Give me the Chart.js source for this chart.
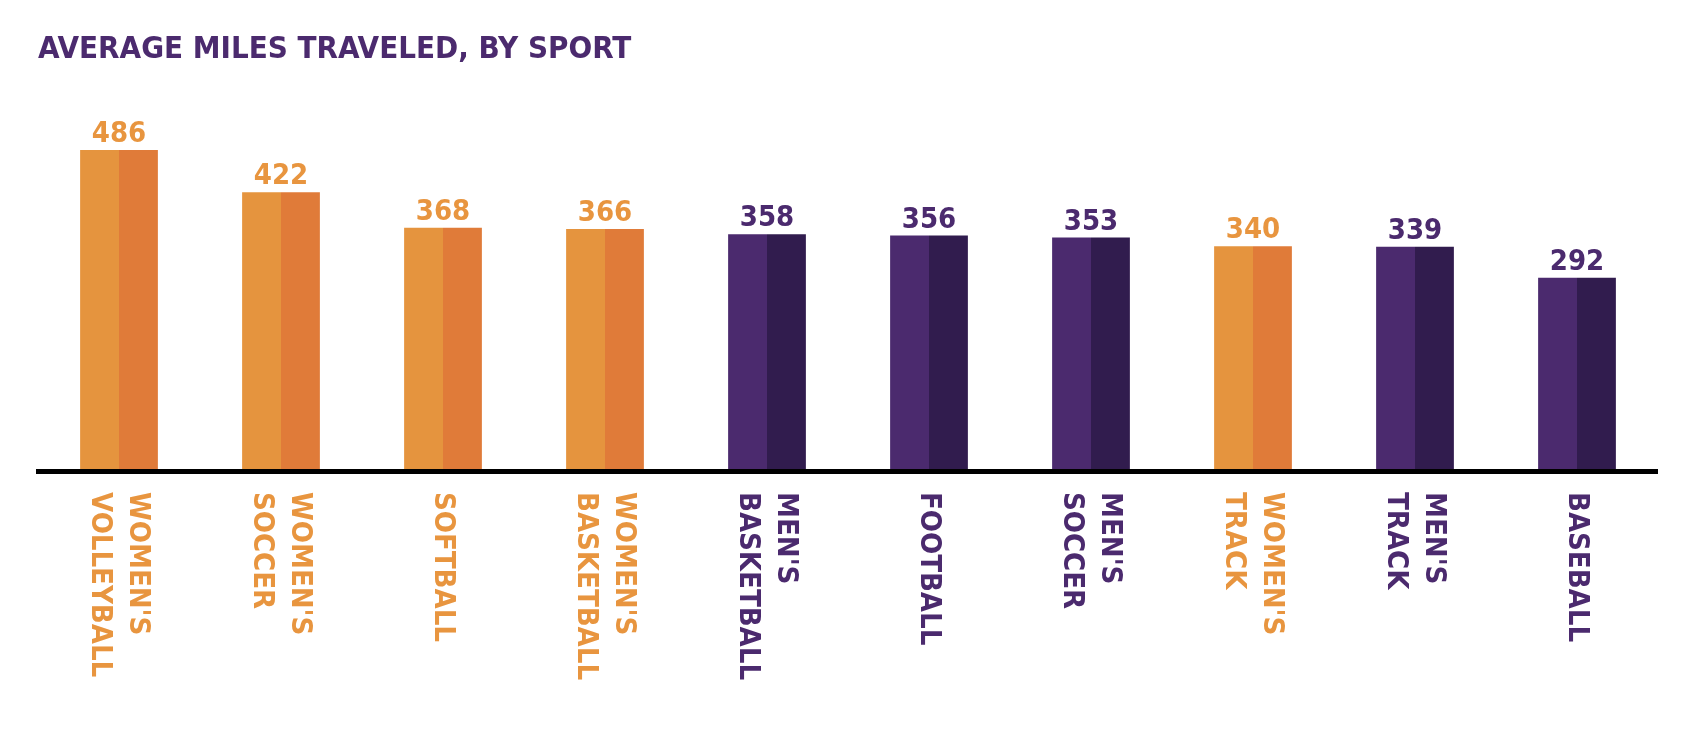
<!DOCTYPE html>
<html><head><meta charset="utf-8">
<script src="https://cdn.jsdelivr.net/npm/chart.js@4"></script>
<style>html,body{margin:0;background:#fff}</style>
</head><body>
<canvas id="c" width="1700" height="750" style="width:1700px;height:750px"></canvas>
<script>
const categories = [["WOMEN'S","VOLLEYBALL"],["WOMEN'S","SOCCER"],["SOFTBALL"],["WOMEN'S","BASKETBALL"],["MEN'S","BASKETBALL"],["FOOTBALL"],["MEN'S","SOCCER"],["WOMEN'S","TRACK"],["MEN'S","TRACK"],["BASEBALL"]];
const miles = [486,422,368,366,358,356,353,340,339,292];
const group = ["w","w","w","w","m","m","m","w","m","m"];
const title = "AVERAGE MILES TRAVELED, BY SPORT";

const FONT = "'Liberation Sans Narrow','DejaVu Sans Condensed',sans-serif";
const light = {w:"#E5943E", m:"#4B2A6E"};
const dark = {w:"#E07B39", m:"#311C4E"};
const textCol = {w:"#E8953F", m:"#4B2A6E"};

const deco = {
  id:"deco",
  afterDraw(chart){
    const ctx = chart.ctx, x = chart.scales.x, y = chart.scales.y, a = chart.chartArea;
    ctx.save();
    ctx.fillStyle = "#4B2A6E";
    ctx.font = "bold 31px " + FONT;
    ctx.textBaseline = "middle"; ctx.textAlign = "left";
    ctx.fillText(title, 38, 50);
    // axis line
    ctx.fillStyle = "#000";
    ctx.fillRect(36, y.getPixelForValue(0) - 1, 1622, 5);
    // value labels
    ctx.font = "bold 29px " + FONT;
    ctx.textAlign = "center"; ctx.textBaseline = "alphabetic";
    miles.forEach((v,i)=>{
      ctx.fillStyle = textCol[group[i]];
      ctx.fillText(String(v), x.getPixelForValue(i), y.getPixelForValue(v) - 8);
    });
    // category labels rotated +90
    ctx.font = "bold 29px " + FONT;
    ctx.textAlign = "left"; ctx.textBaseline = "middle";
    categories.forEach((lines,i)=>{
      const cx = x.getPixelForValue(i), n = lines.length, lh = 38;
      lines.forEach((t,j)=>{
        const px = cx + ((n-1)/2 - j) * lh;
        ctx.save();
        ctx.translate(px, y.getPixelForValue(0) + 22);
        ctx.rotate(Math.PI/2);
        ctx.fillStyle = textCol[group[i]];
        ctx.fillText(t, 0, 0);
        ctx.restore();
      });
    });
    ctx.restore();
  }
};

new Chart(document.getElementById("c"), {
  type:"bar",
  data:{
    labels: categories,
    datasets:[
      {data: miles, backgroundColor: group.map(g=>light[g]), barPercentage:1, categoryPercentage:0.48},
      {data: miles, backgroundColor: group.map(g=>dark[g]), barPercentage:1, categoryPercentage:0.48}
    ]
  },
  options:{
    responsive:false, animation:false,
    layout:{padding:{left:38, right:42, top:100, bottom:280}},
    plugins:{legend:{display:false}, tooltip:{enabled:false}},
    scales:{
      x:{display:false, grid:{display:false}},
      y:{display:false, min:0, max:562, grid:{display:false}}
    }
  },
  plugins:[deco]
});
</script>
</body></html>
